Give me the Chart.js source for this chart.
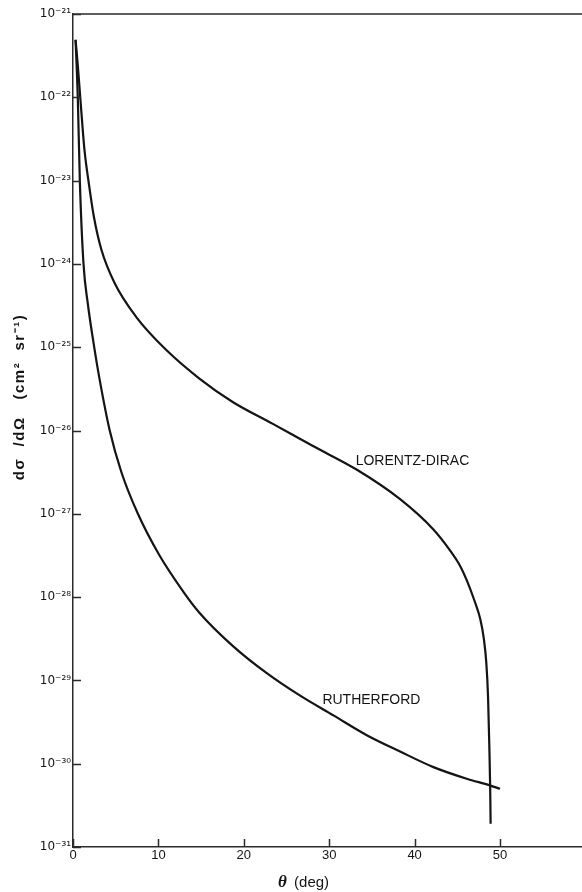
<!DOCTYPE html>
<html>
<head>
<meta charset="utf-8">
<script src="https://cdn.jsdelivr.net/npm/chart.js@4.4.0/dist/chart.umd.min.js"></script>
<style>
  html, body { margin: 0; padding: 0; background: #fff; }
  #wrap { width: 582px; height: 892px; }
</style>
</head>
<body>
<div id="wrap"><canvas id="chart" width="582" height="892"></canvas></div>
<script>
// scattering angle (deg) and cross section (cm^2 sr^-1)
const thetaLD = [0.3, 0.55, 0.85, 1.35, 1.85, 2.44, 3.31, 4.87, 7.41, 10.9, 14.8, 18.7,
                 23.4, 28.1, 33.2, 38.3, 42.2, 44.1, 45.3, 46.1, 47.0, 47.7, 48.1, 48.4,
                 48.6, 48.75, 48.85, 48.9];
const sigmaLD = [4.9e-22, 2.5e-22, 1.0e-22, 2.3e-23, 9.3e-24, 3.7e-24, 1.5e-24, 5.9e-25, 2.3e-25,
                 9.3e-26, 4.2e-26, 2.2e-26, 1.2e-26, 6.5e-27, 3.4e-27, 1.5e-27, 6.5e-28, 3.7e-28,
                 2.4e-28, 1.6e-28, 9.1e-29, 5.4e-29, 3.2e-29, 1.6e-29,
                 6.3e-30, 1.6e-30, 5.0e-31, 1.9e-31];

const thetaRu = [0.3, 0.42, 0.56, 0.8, 1.23, 1.74, 2.52, 3.1, 4.3, 5.65, 7.6, 10.1, 12.95,
                 14.8, 18.7, 22.65, 26.55, 30.5, 34.4, 38.3, 42.2, 46.1, 48.8, 50.0];
const sigmaRu = [4.9e-22, 2.5e-22, 1.0e-22, 1.0e-23, 1.0e-24, 3.3e-25, 9.5e-26, 4.2e-26, 1.0e-26,
                 3.2e-27, 1.0e-27, 3.2e-28, 1.15e-28, 6.5e-29, 2.6e-29, 1.23e-29, 6.6e-30, 3.8e-30,
                 2.2e-30, 1.4e-30, 9.1e-31, 6.6e-31, 5.5e-31, 5.0e-31];

const xTicks = [0, 10, 20, 30, 40, 50];
const yExponents = [-21, -22, -23, -24, -25, -26, -27, -28, -29, -30, -31];

const curveLabels = [
    { text: 'LORENTZ-DIRAC', x: 33.1, y: 4.3e-27 },
    { text: 'RUTHERFORD', x: 29.2, y: 5.8e-30 }
];

const INK = '#141414';
const SUP = { '0': '⁰', '1': '¹', '2': '²', '3': '³', '4': '⁴', '5': '⁵', '6': '⁶', '7': '⁷', '8': '⁸', '9': '⁹', '-': '⁻' };

function powerLabel(v) {
    const e = Math.round(Math.log10(v));
    return '10' + String(e).split('').map(c => SUP[c]).join('');
}

function toPoints(xs, ys) {
    return xs.map((x, i) => ({ x, y: ys[i] }));
}

// frame line on top, inward tick marks, axis titles and curve labels
const decorations = {
    id: 'decorations',
    afterDraw(chart) {
        const { ctx, chartArea: a, scales: { x, y } } = chart;
        ctx.save();
        ctx.strokeStyle = '#2a2a2a';
        ctx.lineWidth = 1.5;
        ctx.beginPath();
        ctx.moveTo(a.left, a.top);
        ctx.lineTo(a.right, a.top);
        xTicks.forEach(t => {
            const px = Math.round(x.getPixelForValue(t)) + 0.5;
            ctx.moveTo(px, a.bottom);
            ctx.lineTo(px, a.bottom - 8);
        });
        yExponents.forEach(e => {
            const py = Math.round(y.getPixelForValue(Math.pow(10, e))) + 0.5;
            ctx.moveTo(a.left, py);
            ctx.lineTo(a.left + 8, py);
        });
        ctx.stroke();

        ctx.fillStyle = INK;
        ctx.textBaseline = 'middle';
        ctx.textAlign = 'left';
        ctx.font = '14px "Liberation Sans", Arial, sans-serif';
        curveLabels.forEach(l => {
            ctx.fillText(l.text, x.getPixelForValue(l.x), y.getPixelForValue(l.y));
        });

        // x title
        const tx = a.left + 205, ty = 883;
        ctx.font = 'italic bold 17px "Liberation Serif", serif';
        ctx.fillText('θ', tx, ty);
        const w = ctx.measureText('θ ').width;
        ctx.font = '15px "Liberation Sans", Arial, sans-serif';
        ctx.fillText('(deg)', tx + w + 3, ty);

        // y title
        ctx.translate(20, 397);
        ctx.rotate(-Math.PI / 2);
        ctx.textAlign = 'center';
        ctx.font = 'bold 15px "Liberation Sans", Arial, sans-serif';
        ctx.letterSpacing = '1.5px';
        ctx.fillText('dσ  /dΩ   (cm²  sr⁻¹)', 0, 0);
        ctx.restore();
    }
};

const lineStyle = {
    borderColor: INK,
    borderWidth: 2.2,
    pointRadius: 0,
    fill: false,
    cubicInterpolationMode: 'monotone'
};

new Chart(document.getElementById('chart'), {
    type: 'line',
    data: {
        datasets: [
            { label: 'Lorentz-Dirac', data: toPoints(thetaLD, sigmaLD), ...lineStyle },
            { label: 'Rutherford', data: toPoints(thetaRu, sigmaRu), ...lineStyle }
        ]
    },
    options: {
        responsive: false,
        animation: false,
        layout: { padding: { top: 14, right: 0, left: 0, bottom: 0 } },
        plugins: { legend: { display: false }, tooltip: { enabled: false } },
        scales: {
            x: {
                type: 'linear',
                min: 0,
                max: 59.6,
                afterFit: s => { s.height = 45; },
                afterBuildTicks: s => { s.ticks = xTicks.map(v => ({ value: v })); },
                grid: { display: true, drawOnChartArea: false, drawTicks: false },
                border: { display: true, color: '#2a2a2a', width: 1.5 },
                ticks: {
                    color: INK,
                    padding: 1,
                    maxRotation: 0,
                    font: { family: '"Liberation Sans", Arial, sans-serif', size: 13 }
                }
            },
            y: {
                type: 'logarithmic',
                min: 1e-31,
                max: 1e-21,
                afterFit: s => { s.width = 73; },
                afterBuildTicks: s => { s.ticks = yExponents.map(e => ({ value: Math.pow(10, e) })); },
                grid: { display: true, drawOnChartArea: false, drawTicks: false },
                border: { display: true, color: '#2a2a2a', width: 1.5 },
                ticks: {
                    color: INK,
                    padding: 2,
                    callback: v => powerLabel(v),
                    font: { family: '"DejaVu Sans", sans-serif', size: 12 }
                }
            }
        }
    },
    plugins: [decorations]
});
</script>
</body>
</html>
